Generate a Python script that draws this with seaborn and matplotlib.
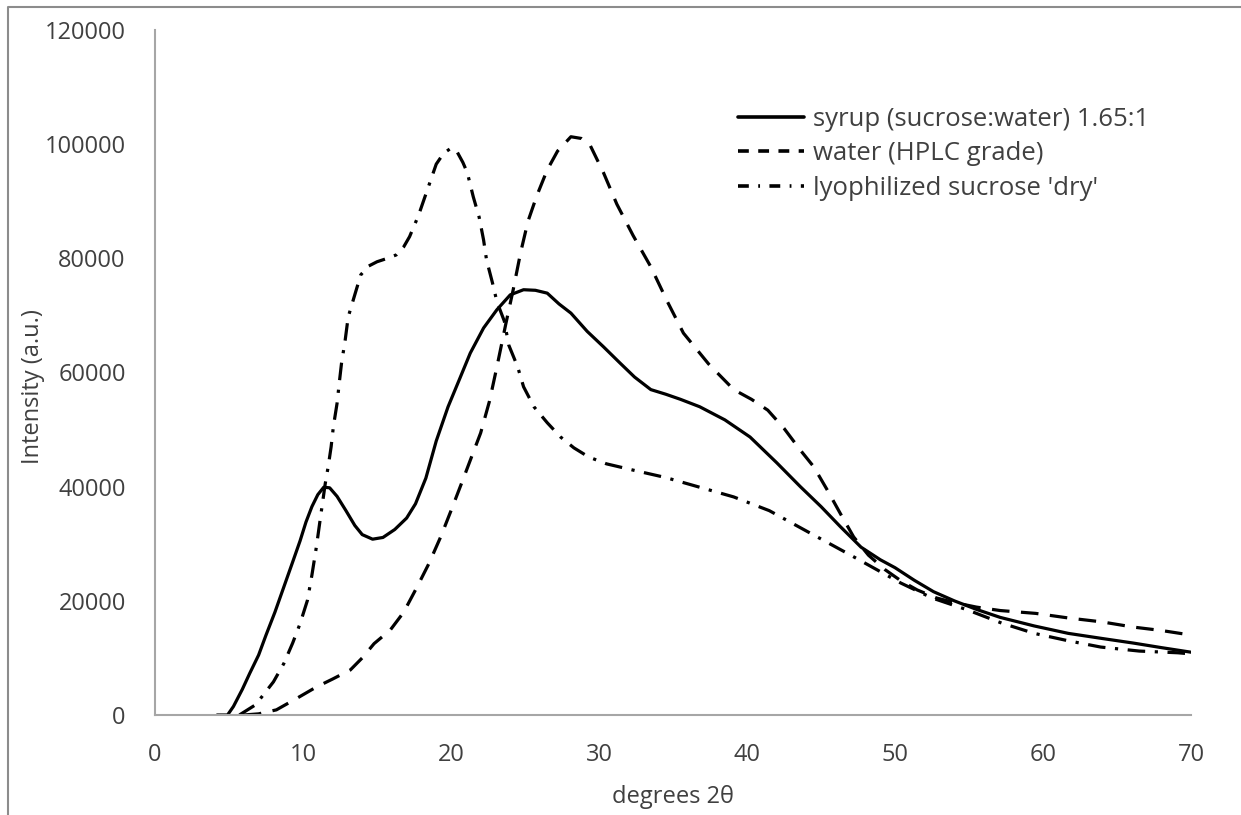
import matplotlib
matplotlib.use("Agg")
import matplotlib.pyplot as plt
import seaborn as sns
import pandas as pd
from matplotlib.lines import Line2D

# ---- data ----
syrup_x = [4.2, 4.9, 5.3, 5.9, 6.4, 7.0, 7.5, 8.1, 8.7, 9.3, 9.8, 10.2, 10.6, 11.0, 11.4, 11.8, 12.3, 12.9, 13.5, 14.0, 14.7, 15.4, 16.2, 17.0, 17.6, 18.3, 19.0, 19.8, 20.6, 21.3, 22.2, 23.1, 24.0, 24.9, 25.7, 26.5, 27.3, 28.1, 29.2, 30.3, 31.4, 32.4, 33.5, 34.5, 35.5, 36.8, 38.5, 40.2, 42.0, 43.6, 45.0, 46.3, 47.7, 49.0, 50.0, 51.3, 52.6, 54.0, 55.5, 57.1, 59.4, 61.7, 64.0, 66.1, 68.0, 70.0]
syrup_y = [0, 0, 1500, 4500, 7300, 10500, 14000, 18000, 22400, 26800, 30500, 33800, 36500, 38600, 39900, 39800, 38300, 35800, 33200, 31600, 30800, 31100, 32500, 34500, 37000, 41500, 48000, 54000, 59000, 63400, 67800, 71000, 73600, 74500, 74400, 73900, 72000, 70400, 67200, 64500, 61700, 59200, 57000, 56200, 55300, 54000, 51700, 48700, 44200, 40000, 36500, 33000, 29400, 27200, 25800, 23600, 21600, 20000, 18500, 17100, 15600, 14300, 13400, 12600, 11800, 11000]

water_x = [6.0, 7.0, 8.2, 9.5, 10.9, 12.0, 13.2, 14.0, 14.8, 15.9, 16.8, 17.7, 18.5, 19.3, 20.0, 20.8, 21.5, 22.0, 22.6, 23.1, 23.7, 24.2, 24.7, 25.2, 25.8, 26.5, 27.2, 28.1, 28.8, 29.4, 30.3, 31.2, 32.3, 33.5, 34.6, 35.7, 37.4, 39.1, 40.3, 41.4, 42.5, 43.6, 44.5, 45.4, 46.3, 47.2, 48.2, 49.3, 50.4, 51.5, 52.8, 54.0, 55.5, 57.1, 59.5, 61.7, 64.0, 66.1, 68.0, 70.0]
water_y = [0, 200, 900, 2800, 4900, 6300, 7900, 10000, 12500, 14900, 18000, 22400, 26500, 31200, 35800, 41200, 46000, 49400, 55000, 61000, 68500, 74500, 81000, 86500, 91000, 95500, 98800, 101300, 101000, 99800, 95000, 89500, 84000, 78500, 72500, 66900, 61500, 57000, 55300, 53400, 50200, 46400, 43500, 39500, 35300, 31200, 28000, 25500, 23500, 21900, 20500, 19700, 18900, 18300, 17800, 17000, 16300, 15400, 14800, 14000]

dry_x = [5.7, 6.8, 8.0, 8.7, 9.3, 9.8, 10.3, 10.6, 10.9, 11.2, 11.5, 11.7, 11.9, 12.05, 12.3, 12.45, 12.6, 12.85, 13.05, 13.45, 13.9, 14.4, 15.0, 15.7, 16.3, 16.8, 17.2, 17.8, 18.4, 19.0, 19.5, 20.0, 20.4, 20.8, 21.1, 21.5, 21.9, 22.2, 22.4, 22.8, 23.1, 23.6, 23.9, 24.5, 24.9, 25.6, 26.5, 27.4, 28.3, 29.3, 30.5, 32.3, 34.5, 36.8, 39.1, 41.5, 44.1, 47.0, 50.4, 52.5, 54.9, 57.2, 59.4, 61.7, 63.9, 66.5, 69.1, 70.0]
dry_y = [0, 1800, 5800, 9000, 12600, 16000, 20100, 24500, 29400, 35000, 40500, 43500, 47000, 50500, 54600, 58200, 61600, 65700, 69700, 73200, 77100, 78600, 79400, 80000, 80600, 82000, 83800, 87500, 92000, 96500, 98400, 99300, 98700, 96800, 95000, 90800, 87200, 83200, 79700, 75700, 72400, 69000, 64800, 61000, 57500, 54000, 51200, 48700, 46800, 45200, 44000, 42900, 41600, 39900, 38200, 35800, 32100, 28000, 23100, 20500, 18400, 16100, 14300, 13000, 11900, 11200, 10900, 10700]

labels = ["syrup (sucrose:water) 1.65:1", "water (HPLC grade)", "lyophilized sucrose 'dry'"]
x_ticks = [0, 10, 20, 30, 40, 50, 60, 70]
y_ticks = [0, 20000, 40000, 60000, 80000, 100000, 120000]

df = pd.concat([
    pd.DataFrame({"x": syrup_x, "y": syrup_y, "series": labels[0]}),
    pd.DataFrame({"x": water_x, "y": water_y, "series": labels[1]}),
    pd.DataFrame({"x": dry_x, "y": dry_y, "series": labels[2]}),
])

sns.set_theme(style="white")
plt.rcParams["font.family"] = ["Open Sans", "DejaVu Sans"]

fig = plt.figure(figsize=(12.41, 8.15), dpi=100)
ax = fig.add_axes([0.1249, 0.1227, 0.8349, 0.8405])

dash_styles = {labels[0]: "", labels[1]: (5.5, 3.6), labels[2]: (5.5, 3.0, 1.0, 3.0)}
sns.lineplot(data=df, x="x", y="y", hue="series", style="series",
             palette=["black"] * 3, dashes=dash_styles, sort=False,
             estimator=None, linewidth=2.3, ax=ax, legend=False)

ax.set_xlim(0, 70)
ax.set_ylim(0, 120000)
ax.set_xticks(x_ticks)
ax.set_yticks(y_ticks)
ax.set_xticklabels([str(v) for v in x_ticks])
ax.set_yticklabels([str(v) for v in y_ticks])
txt_color = "#404040"
ax.tick_params(axis="both", length=0, labelsize=17, colors=txt_color)
ax.tick_params(axis="x", pad=20)
ax.tick_params(axis="y", pad=21)
ax.set_xlabel("degrees 2θ", fontsize=17, color=txt_color)
ax.set_ylabel("Intensity (a.u.)", fontsize=17, color=txt_color)
ax.xaxis.set_label_coords(0.5, -0.102)
ax.yaxis.set_label_coords(-0.106, 0.48)

for s in ["top", "right"]:
    ax.spines[s].set_visible(False)
for s in ["left", "bottom"]:
    ax.spines[s].set_color("#a6a6a6")
    ax.spines[s].set_linewidth(1.5)

handles = [Line2D([0], [0], color="black", lw=2.6, linestyle="-"),
           Line2D([0], [0], color="black", lw=2.6, linestyle=(0, (3.0, 2.6))),
           Line2D([0], [0], color="black", lw=2.6, linestyle=(0, (3.0, 2.6, 0.5, 2.6)))]
leg = ax.legend(handles, labels, loc="upper left", bbox_to_anchor=(0.5623, 0.888),
                frameon=False, fontsize=18.5, handlelength=2.6, handletextpad=0.33,
                labelspacing=0.38, borderaxespad=0, borderpad=0)
for t in leg.get_texts():
    t.set_color(txt_color)

# figure border (left and top visible)
fig.add_artist(Line2D([8 / 1241, 8 / 1241, 1.0], [0.0, 1 - 7 / 815, 1 - 7 / 815],
                      transform=fig.transFigure, color="#8c8c8c", lw=1.5))

fig.savefig("out.png", dpi=100)
